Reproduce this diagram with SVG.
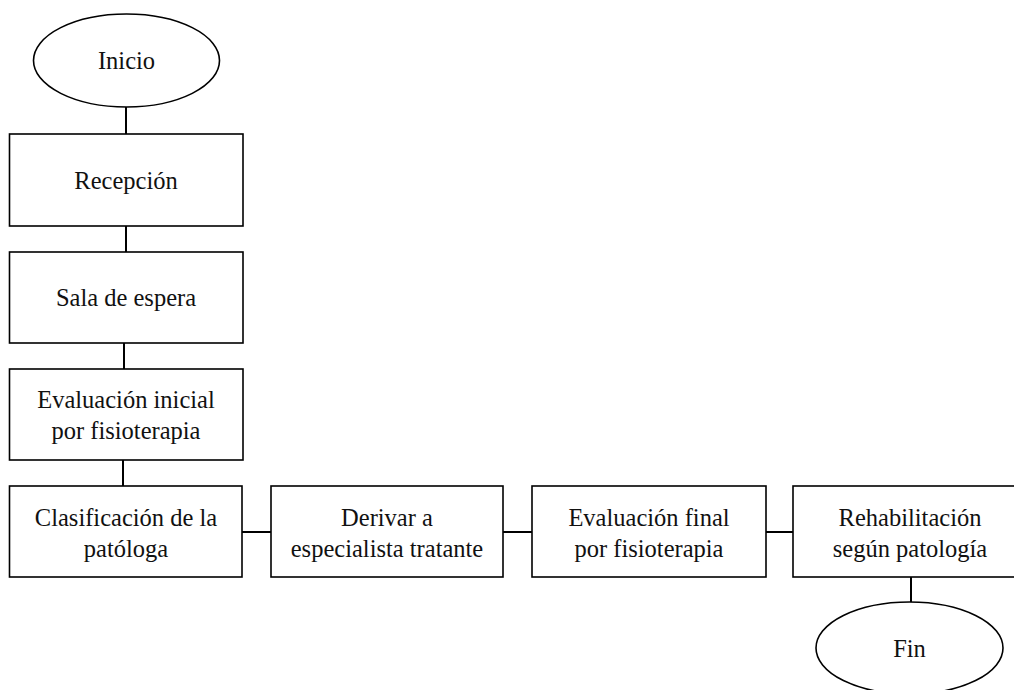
<svg xmlns="http://www.w3.org/2000/svg" width="1014" height="690" viewBox="0 0 1014 690">
  <style>
    .shape { fill: #ffffff; stroke: #000000; stroke-width: 1.6; }
    .link { stroke: #000000; stroke-width: 2; fill: none; }
    .label { font-family: 'Liberation Serif', 'Times New Roman', serif; font-size: 24.5px; fill: #111111; text-anchor: middle; }
  </style>
  <rect width="1014" height="690" fill="#ffffff"/>

  <!-- connectors -->
  <g id="connectors">
    <line class="link" x1="126" y1="107" x2="126" y2="134"/>
    <line class="link" x1="126" y1="226" x2="126" y2="252"/>
    <line class="link" x1="124" y1="343" x2="124" y2="369"/>
    <line class="link" x1="123" y1="460" x2="123" y2="486"/>
    <line class="link" x1="242" y1="532" x2="271" y2="532"/>
    <line class="link" x1="503" y1="532" x2="532" y2="532"/>
    <line class="link" x1="766" y1="532" x2="793" y2="532"/>
    <line class="link" x1="911" y1="577" x2="911" y2="602"/>
  </g>

  <g id="inicio">
    <ellipse class="shape" cx="126.5" cy="60.5" rx="93" ry="46.5"/>
    <text class="label" x="126.5" y="69">Inicio</text>
  </g>

  <g id="recepcion">
    <rect class="shape" x="9.5" y="134" width="233.5" height="92"/>
    <text class="label" x="126" y="189">Recepción</text>
  </g>

  <g id="sala-espera">
    <rect class="shape" x="9.5" y="252" width="233.5" height="91"/>
    <text class="label" x="126" y="306">Sala de espera</text>
  </g>

  <g id="evaluacion-inicial">
    <rect class="shape" x="9.5" y="369" width="233.5" height="91"/>
    <text class="label" x="126" y="408">Evaluación inicial</text>
    <text class="label" x="126" y="439">por fisioterapia</text>
  </g>

  <g id="clasificacion">
    <rect class="shape" x="9.5" y="486" width="232.5" height="91"/>
    <text class="label" x="126" y="526">Clasificación de la</text>
    <text class="label" x="126" y="557">patóloga</text>
  </g>

  <g id="derivar">
    <rect class="shape" x="271" y="486" width="232" height="91"/>
    <text class="label" x="387" y="526">Derivar a</text>
    <text class="label" x="387" y="557">especialista tratante</text>
  </g>

  <g id="evaluacion-final">
    <rect class="shape" x="532" y="486" width="234" height="91"/>
    <text class="label" x="649" y="526">Evaluación final</text>
    <text class="label" x="649" y="557">por fisioterapia</text>
  </g>

  <g id="rehabilitacion">
    <rect class="shape" x="793" y="486" width="232" height="91"/>
    <text class="label" x="910" y="526">Rehabilitación</text>
    <text class="label" x="910" y="557">según patología</text>
  </g>

  <g id="fin">
    <ellipse class="shape" cx="909.5" cy="648" rx="93.5" ry="46"/>
    <text class="label" x="909.5" y="657">Fin</text>
  </g>
</svg>
